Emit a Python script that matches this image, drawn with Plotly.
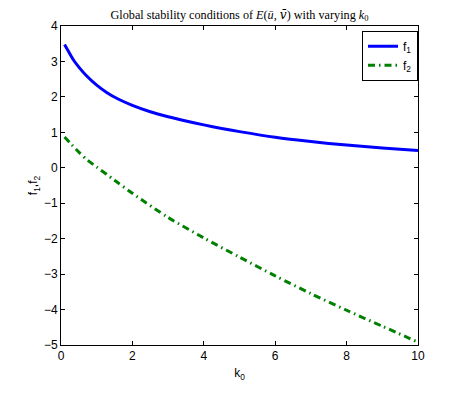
import plotly.graph_objects as go

# k0 values and the two stability functions
k0_f1 = [0.1, 0.2, 0.35, 0.5, 0.7, 1.0, 1.3, 1.6, 2.0, 2.5, 3.0, 3.5, 4.0, 4.5, 5.0, 6.0, 7.0, 8.0, 9.0, 10.0]
f1 = [3.48, 3.30, 3.04, 2.84, 2.61, 2.33, 2.11, 1.94, 1.76, 1.58, 1.44, 1.32, 1.21, 1.11, 1.02, 0.86, 0.74, 0.64, 0.56, 0.49]

k0_f2 = [0.1, 0.3, 0.5, 0.75, 1.0, 1.5, 2.0, 3.0, 4.0, 5.0, 6.0, 7.0, 8.0, 9.0, 10.0]
f2 = [0.87, 0.65, 0.44, 0.21, 0.02, -0.35, -0.72, -1.40, -1.98, -2.52, -3.05, -3.55, -4.02, -4.47, -4.92]

x_ticks = [0, 2, 4, 6, 8, 10]
y_ticks = [-5, -4, -3, -2, -1, 0, 1, 2, 3, 4]

SANS = "Liberation Sans, Arial, sans-serif"

fig = go.Figure()

fig.add_trace(go.Scatter(
    x=k0_f1, y=f1, mode="lines", name="f<sub>1</sub>",
    line=dict(color="#0000ff", width=3, shape="spline", smoothing=0.8),
))
fig.add_trace(go.Scatter(
    x=k0_f2, y=f2, mode="lines", name="f<sub>2</sub>",
    line=dict(color="#008000", width=3, shape="spline", smoothing=0.8,
              dash="7px,4px,1.5px,4px"),
))

axis_common = dict(
    showline=True, linecolor="black", linewidth=1, mirror="ticks",
    ticks="inside", ticklen=4, tickcolor="black", showgrid=False, zeroline=False,
    tickfont=dict(family=SANS, size=12, color="black"),
)

fig.update_xaxes(
    range=[0, 10], tickvals=x_ticks,
    title=dict(text="k<sub>0</sub>", standoff=6, font=dict(family=SANS, size=12, color="black")),
    **axis_common,
)
fig.update_yaxes(
    range=[-5, 4], tickvals=y_ticks,
    title=dict(text="f<sub>1</sub>,f<sub>2</sub>", standoff=3, font=dict(family=SANS, size=12, color="black")),
    **axis_common,
)

# page body has an 8px margin, so the figure is a bit smaller than the window
fig.update_layout(
    width=461, height=386,
    margin=dict(l=53, r=51, t=18, b=49),
    paper_bgcolor="white", plot_bgcolor="white",
    title=dict(
        text=("Global stability conditions of <i>E</i>(<i>ū</i>, "
              "<span style='font-family:DejaVu Serif'><i>v\u0304</i></span>) "
              "with varying <i>k</i><sub>0</sub>"),
        x=0.5, xref="paper", xanchor="center",
        y=1, yref="container", yanchor="top", pad=dict(t=2),
        font=dict(family="Liberation Serif, Times New Roman, serif", size=12.2, color="black"),
    ),
    legend=dict(
        x=1.0, xanchor="right", y=0.985, yanchor="top",
        bgcolor="white", bordercolor="black", borderwidth=1,
        font=dict(family=SANS, size=12, color="black"),
        itemwidth=30, tracegroupgap=0,
    ),
    showlegend=True,
)

fig.write_html("out.html")
